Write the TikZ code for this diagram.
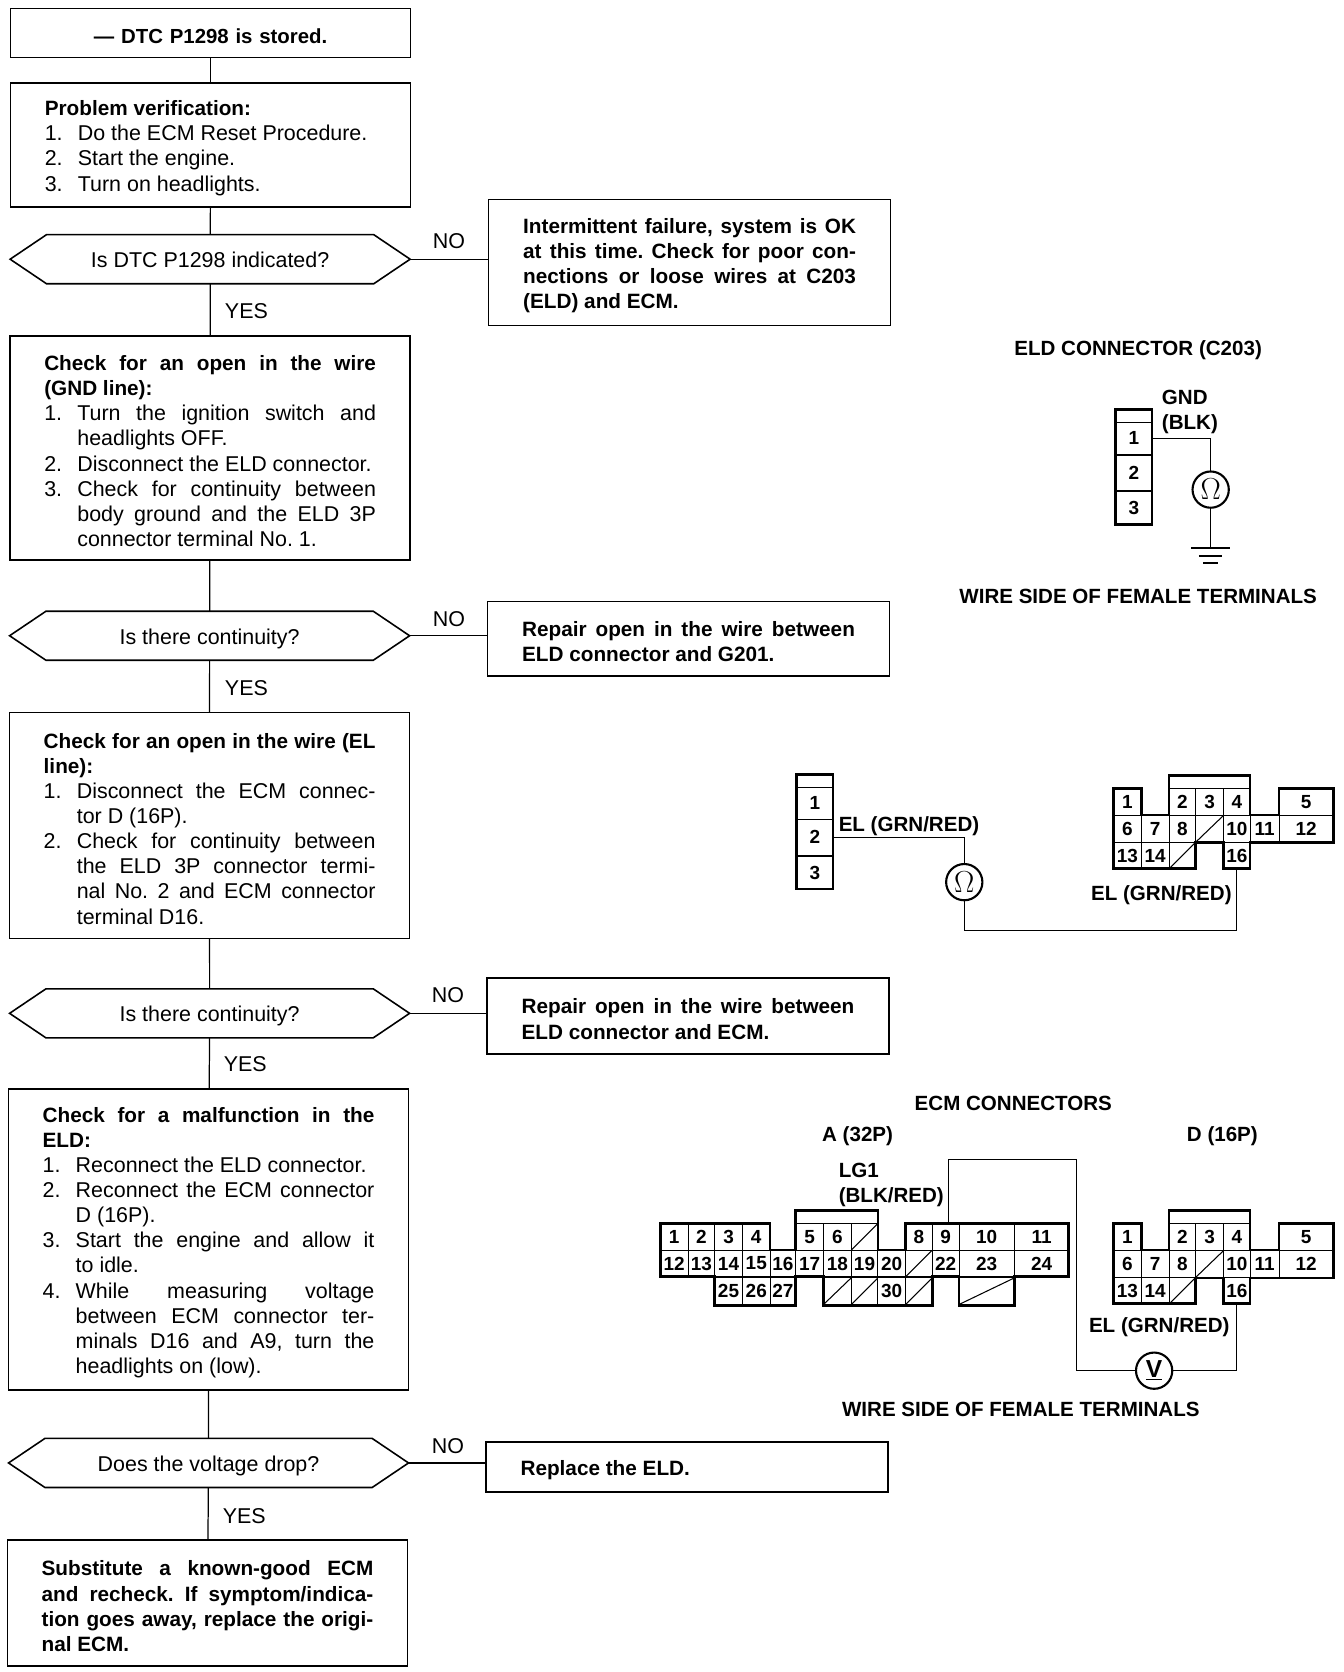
\documentclass[tikz,border=0pt]{standalone}
\usepackage{fontspec}
\setmainfont{Liberation Sans}
\usetikzlibrary{shapes.symbols}

\def\upx{0.213333mm}
\newcommand{\stepline}[2]{\par\hangindent=31\dimexpr\upx\relax\hangafter=1\noindent\makebox[31\dimexpr\upx\relax][l]{#1}#2\par}
\newcommand{\lead}[1]{{\fontsize{11.8}{14.3}\selectfont\bfseries #1}}

\tikzset{
    flowbox/.style={draw,line width=0.9pt,outer sep=0pt,inner sep=0pt,align=justify,text width=311*\upx,minimum width=375*\upx,font=\fontsize{12.2}{14.3}\selectfont,execute at begin node={\rule{0pt}{12pt}}},
    notebox/.style={draw,line width=0.9pt,outer sep=0pt,inner sep=0pt,align=justify,text width=312*\upx,minimum width=377*\upx,font=\fontsize{11.8}{14.3}\selectfont\bfseries,execute at begin node={\rule{0pt}{12pt}}},
    query/.style={draw,line width=0.9pt,outer sep=0pt,inner sep=0pt,shape=signal,signal to=west and east,signal pointer angle=68,minimum width=375*\upx,minimum height=46*\upx,text height=12pt,text depth=2.6pt,font=\fontsize{12.2}{14.3}\selectfont},
    answer/.style={font=\fontsize{12.2}{14.3}\selectfont},
    heading/.style={font=\fontsize{11.7}{14.3}\selectfont\bfseries,inner sep=0pt},
    cell/.style={draw,line width=0.5pt,outer sep=0pt,inner sep=0pt,minimum height=25*\upx,font=\fontsize{10.8}{12}\selectfont\bfseries},
    blank/.style={cell,path picture={\draw[line width=0.6pt] (path picture bounding box.south west) -- (path picture bounding box.north east);}},
    meter/.style={draw,circle,line width=1.2pt,outer sep=0pt,inner sep=0pt,minimum size=34*\upx,font=\fontsize{16}{16}\selectfont},
    wire/.style={line width=0.7pt},
    shell/.style={line width=1.5pt,line join=miter}
}

\newcommand{\threepin}[3]{
    \begin{scope}[shift={(#2,#3)},name prefix=#1-]
        \foreach \n/\y/\h in {1/0/30,2/32/33,3/65/31}
            \node[cell,minimum width=34*\upx,minimum height=\h*\upx] (\n) at (0,\y) {\n};
        \draw[shell] (-17,-27) rectangle (17,80.5);
    \end{scope}
}

\newcommand{\dconnector}[2]{
    \begin{scope}[shift={(0,#2)},name prefix=#1-]
        \draw[line width=0.5pt] (1096,739) -- (1172,739);
        \foreach \n/\x/\y/\w in {1/1057/751.5/26,2/1108.5/751.5/25,3/1134/751.5/26,4/1159.5/751.5/25,5/1224.5/751.5/51,
            6/1057/777/26,7/1083/777/26,8/1108.5/777/25,10/1159.5/777/25,11/1185.5/777/27,12/1224.5/777/51,
            13/1057/802/26,14/1083/802/26,16/1159.5/802/25}
            \node[cell,minimum width=\w*\upx] (\n) at (\x,\y) {\n};
        \node[blank,minimum width=26*\upx] (gap1) at (1134,777) {};
        \node[blank,minimum width=25*\upx] (gap2) at (1108.5,802) {};
        \draw[shell] (1044,739) -- (1070,739) -- (1070,764) -- (1096,764) -- (1096,727) -- (1172,727) -- (1172,764) -- (1199,764) -- (1199,739) -- (1250,739) -- (1250,790) -- (1172,790) -- (1172,814) -- (1147,814) -- (1147,790) -- (1121,790) -- (1121,814) -- (1044,814) -- cycle;
    \end{scope}
}

\begin{document}
\frenchspacing
\begin{tikzpicture}[x=\upx,y=-\upx]
    \useasboundingbox (0,0) rectangle (1260,1567.5);

    \node[flowbox,align=center,minimum height=46*\upx,font=\fontsize{11.6}{14.3}\selectfont\bfseries] (stored) at (197.5,31) {--- DTC P1298 is stored.};
    \node[flowbox,minimum height=116*\upx] (verify) at (197.5,136) {\lead{Problem verification:}
        \stepline{1.}{Do the ECM Reset Procedure.}
        \stepline{2.}{Start the engine.}
        \stepline{3.}{Turn on headlights.}};
    \node[query] (indicated) at (197,243) {Is DTC P1298 indicated?};
    \node[notebox,minimum height=118*\upx] (intermittent) at (646.5,246) {Intermittent failure, system is OK\linebreak at this time. Check for poor con-\linebreak nections or loose wires at C203\linebreak (ELD) and ECM.};
    \node[flowbox,minimum height=210*\upx] (gndline) at (197,420) {\lead{Check for an open in the wire\linebreak (GND line):}
        \stepline{1.}{Turn the ignition switch and\linebreak headlights OFF.}
        \stepline{2.}{Disconnect the ELD connector.}
        \stepline{3.}{Check for continuity between\linebreak body ground and the ELD 3P\linebreak connector terminal No. 1.}};
    \node[query] (contone) at (196.5,596) {Is there continuity?};
    \node[notebox,minimum height=70*\upx] (repairgnd) at (645.5,599) {Repair open in the wire between\linebreak ELD connector and G201.};
    \node[flowbox,minimum height=212*\upx] (elline) at (196.5,774) {\lead{Check for an open in the wire (EL\linebreak line):}
        \stepline{1.}{Disconnect the ECM connec-\linebreak tor D (16P).}
        \stepline{2.}{Check for continuity between\linebreak the ELD 3P connector termi-\linebreak nal No. 2 and ECM connector\linebreak terminal D16.}};
    \node[query] (conttwo) at (196.5,950) {Is there continuity?};
    \node[notebox,minimum height=71*\upx] (repairel) at (645,952.5) {Repair open in the wire between\linebreak ELD connector and ECM.};
    \node[flowbox,minimum height=282*\upx] (malfunction) at (195.5,1162) {\lead{Check for a malfunction in the\linebreak ELD:}
        \stepline{1.}{Reconnect the ELD connector.}
        \stepline{2.}{Reconnect the ECM connector\linebreak D (16P).}
        \stepline{3.}{Start the engine and allow it\linebreak to idle.}
        \stepline{4.}{While measuring voltage\linebreak between ECM connector ter-\linebreak minals D16 and A9, turn the\linebreak headlights on (low).}};
    \node[query] (drop) at (195.5,1371.5) {Does the voltage drop?};
    \node[notebox,minimum height=47*\upx] (replace) at (644,1375.5) {Replace the ELD.};
    \node[flowbox,minimum height=118*\upx,font=\fontsize{11.8}{14.3}\selectfont\bfseries] (substitute) at (194.5,1503) {Substitute a known-good ECM\linebreak and recheck. If symptom/indica-\linebreak tion goes away, replace the origi-\linebreak nal ECM.};

    \draw[wire] (stored) -- (verify);
    \draw[wire] (verify) -- (indicated);
    \draw[wire] (indicated) -- (gndline);
    \draw[wire] (indicated.east) -- (intermittent.west |- indicated.east);
    \draw[wire] (gndline) -- (contone);
    \draw[wire] (contone) -- (elline);
    \draw[wire] (contone.east) -- (repairgnd.west |- contone.east);
    \draw[wire] (elline) -- (conttwo);
    \draw[wire] (conttwo) -- (malfunction);
    \draw[wire] (conttwo.east) -- (repairel.west |- conttwo.east);
    \draw[wire] (malfunction) -- (drop);
    \draw[wire] (drop) -- (substitute);
    \draw[wire] (drop.east) -- (replace.west |- drop.east);

    \foreach \n/\x/\y in {noone/421/226,notwo/421/580,nothree/420/933,nofour/420/1356}
        \node[answer] (\n) at (\x,\y) {NO};
    \foreach \n/\x/\y in {yesone/231/292,yestwo/231/645,yesthree/230/998,yesfour/229/1421}
        \node[answer] (\n) at (\x,\y) {YES};

    \node[heading] (eldtitle) at (1067,328) {ELD CONNECTOR (C203)};
    \threepin{eld}{1063}{411}
    \node[heading,anchor=west,align=left] (gndlabel) at (1089,386) {GND\\(BLK)};
    \node[meter] (ohmone) at (1135,459) {$\Omega$};
    \coordinate (gnd) at (1135,514);
    \draw[wire] (eld-1.east) -| (ohmone.north);
    \draw[wire] (ohmone.south) -- (gnd);
    \draw[line width=0.9pt] (1117,514) -- (1153,514) (1124,521) -- (1146,521) (1128,528) -- (1142,528);
    \node[heading] (wireone) at (1067,559) {WIRE SIDE OF FEMALE TERMINALS};

    \threepin{elc}{764}{753}
    \node[heading,anchor=west] (ellabel) at (786,775) {EL (GRN/RED)};
    \node[meter] (ohmtwo) at (904,827) {$\Omega$};
    \dconnector{done}{0}
    \coordinate (elturn) at (904,872);
    \draw[wire] (elc-2.east) -| (ohmtwo.north);
    \draw[wire] (ohmtwo.south) |- (elturn) -| (done-16.south);
    \node[heading,anchor=east] (eldlabel) at (1155,839) {EL (GRN/RED)};

    \node[heading] (ecmtitle) at (950,1034) {ECM CONNECTORS};
    \node[heading] (atitle) at (804,1065) {A (32P)};
    \node[heading] (dtitle) at (1146,1065) {D (16P)};
    \node[heading,anchor=west,align=left] (lglabel) at (786,1110.5) {LG1\\(BLK/RED)};
    \draw[line width=0.5pt] (746,1147) -- (823,1147);
    \foreach \n/\x/\y/\w in {1/632/1159.5/26,2/657.5/1159.5/25,3/683/1159.5/26,4/709/1159.5/26,5/759/1159.5/26,6/785/1159.5/26,8/861.5/1159.5/25,9/886.5/1159.5/25,10/925/1159.5/52,11/976.5/1159.5/51,
        12/632/1184.5/26,13/657.5/1184.5/25,14/683/1184.5/26,15/709/1184.5/26,16/734/1184.5/24,17/759/1184.5/26,18/785/1184.5/26,19/810.5/1184.5/25,20/836/1184.5/26,22/886.5/1184.5/25,23/925/1184.5/52,24/976.5/1184.5/51,
        25/683/1210.5/26,26/709/1210.5/26,27/734/1210.5/24,30/836/1210.5/26}
        \node[cell,minimum width=\w*\upx] (a\n) at (\x,\y) {\n};
    \foreach \n/\x/\y/\w in {7/810.5/1159.5/25,21/861.5/1184.5/25,28/785/1210.5/26,29/810.5/1210.5/25,31/861.5/1210.5/25,32/925/1210.5/52}
        \node[blank,minimum width=\w*\upx] (a\n) at (\x,\y) {};
    \draw[shell] (619,1147) -- (722,1147) -- (722,1172) -- (746,1172) -- (746,1135) -- (823,1135) -- (823,1172) -- (849,1172) -- (849,1147) -- (1002,1147) -- (1002,1197) -- (951,1197) -- (951,1224) -- (899,1224) -- (899,1197) -- (874,1197) -- (874,1224) -- (772,1224) -- (772,1197) -- (746,1197) -- (746,1224) -- (670,1224) -- (670,1197) -- (619,1197) -- cycle;
    \dconnector{dtwo}{408}
    \node[heading,anchor=east] (dellabel) at (1153,1244) {EL (GRN/RED)};
    \node[meter,font=\fontsize{14}{14}\selectfont\bfseries] (volts) at (1082,1285) {\underline{V}};
    \coordinate (ecmturn) at (1009,1087);
    \draw[wire] ([xshift=3*\upx]a9.north) |- (ecmturn) |- (volts.west);
    \draw[wire] (volts.east) -| (dtwo-16.south);
    \node[heading] (wiretwo) at (957,1321) {WIRE SIDE OF FEMALE TERMINALS};
\end{tikzpicture}
\end{document}
